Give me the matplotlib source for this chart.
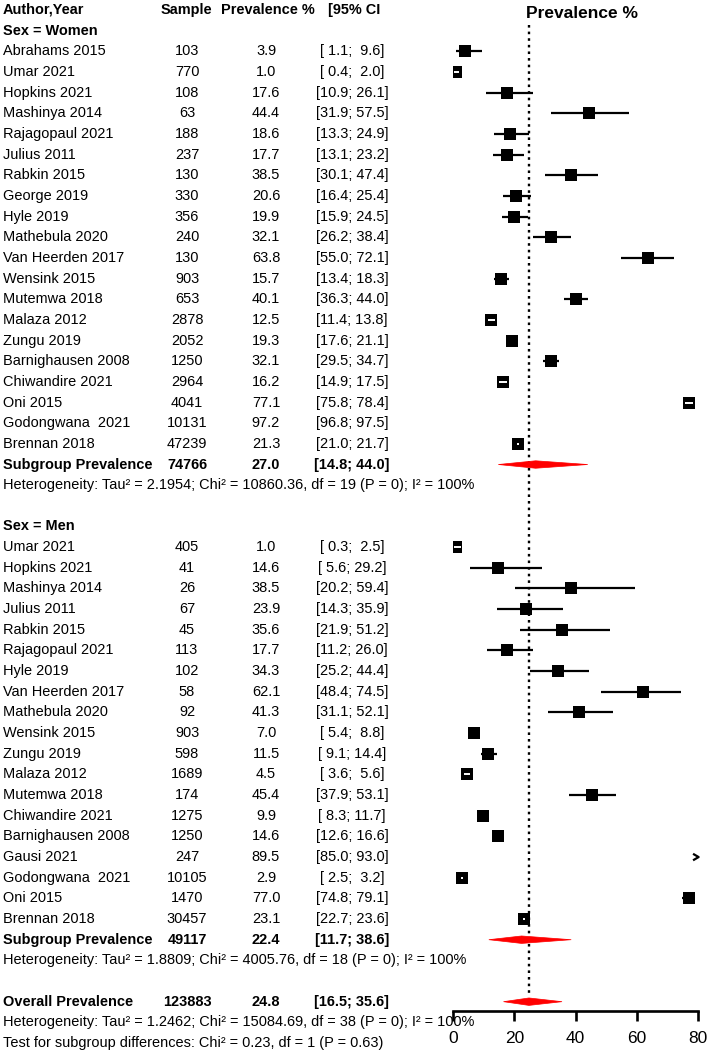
import matplotlib
matplotlib.use("Agg")
import matplotlib.pyplot as plt
from matplotlib.transforms import blended_transform_factory
from matplotlib.patches import Polygon

plt.rcParams['font.family'] = ['Liberation Sans', 'DejaVu Sans']

# ---- data: women ----
w_study = ["Abrahams 2015", "Umar 2021", "Hopkins 2021", "Mashinya 2014", "Rajagopaul 2021",
           "Julius 2011", "Rabkin 2015", "George 2019", "Hyle 2019", "Mathebula 2020",
           "Van Heerden 2017", "Wensink 2015", "Mutemwa 2018", "Malaza 2012", "Zungu 2019",
           "Barnighausen 2008", "Chiwandire 2021", "Oni 2015", "Godongwana  2021", "Brennan 2018"]
w_n = [103, 770, 108, 63, 188, 237, 130, 330, 356, 240, 130, 903, 653, 2878, 2052, 1250, 2964,
       4041, 10131, 47239]
w_prev = [3.9, 1.0, 17.6, 44.4, 18.6, 17.7, 38.5, 20.6, 19.9, 32.1, 63.8, 15.7, 40.1, 12.5, 19.3,
          32.1, 16.2, 77.1, 97.2, 21.3]
w_lo = [1.1, 0.4, 10.9, 31.9, 13.3, 13.1, 30.1, 16.4, 15.9, 26.2, 55.0, 13.4, 36.3, 11.4, 17.6,
        29.5, 14.9, 75.8, 96.8, 21.0]
w_hi = [9.6, 2.0, 26.1, 57.5, 24.9, 23.2, 47.4, 25.4, 24.5, 38.4, 72.1, 18.3, 44.0, 13.8, 21.1,
        34.7, 17.5, 78.4, 97.5, 21.7]
w_sub = [74766, 27.0, 14.8, 44.0]
w_het = "Heterogeneity: Tau² = 2.1954; Chi² = 10860.36, df = 19 (P = 0); I² = 100%"

# ---- data: men ----
m_study = ["Umar 2021", "Hopkins 2021", "Mashinya 2014", "Julius 2011", "Rabkin 2015",
           "Rajagopaul 2021", "Hyle 2019", "Van Heerden 2017", "Mathebula 2020", "Wensink 2015",
           "Zungu 2019", "Malaza 2012", "Mutemwa 2018", "Chiwandire 2021", "Barnighausen 2008",
           "Gausi 2021", "Godongwana  2021", "Oni 2015", "Brennan 2018"]
m_n = [405, 41, 26, 67, 45, 113, 102, 58, 92, 903, 598, 1689, 174, 1275, 1250, 247, 10105, 1470,
       30457]
m_prev = [1.0, 14.6, 38.5, 23.9, 35.6, 17.7, 34.3, 62.1, 41.3, 7.0, 11.5, 4.5, 45.4, 9.9, 14.6,
          89.5, 2.9, 77.0, 23.1]
m_lo = [0.3, 5.6, 20.2, 14.3, 21.9, 11.2, 25.2, 48.4, 31.1, 5.4, 9.1, 3.6, 37.9, 8.3, 12.6, 85.0,
        2.5, 74.8, 22.7]
m_hi = [2.5, 29.2, 59.4, 35.9, 51.2, 26.0, 44.4, 74.5, 52.1, 8.8, 14.4, 5.6, 53.1, 11.7, 16.6,
        93.0, 3.2, 79.1, 23.6]
m_sub = [49117, 22.4, 11.7, 38.6]
m_het = "Heterogeneity: Tau² = 1.8809; Chi² = 4005.76, df = 18 (P = 0); I² = 100%"

overall = [123883, 24.8, 16.5, 35.6]
overall_het = "Heterogeneity: Tau² = 1.2462; Chi² = 15084.69, df = 38 (P = 0); I² = 100%"
subgroup_test = "Test for subgroup differences: Chi² = 0.23, df = 1 (P = 0.63)"
arrow_studies = ["Gausi 2021"]

xticks = [0, 20, 40, 60, 80]

# ---- layout (pixels of a 708x1053 image) ----
W, H = 708, 1053
row_h = 20.66
top = 10
x0_px, x1_px = 453, 698
fs = 10.45
sq_px = 11.5

fig = plt.figure(figsize=(W / 100, H / 100), dpi=100)
ax = fig.add_axes([x0_px / W, 0, (x1_px - x0_px) / W, 1])
ax.set_xlim(0, 80)
ax.set_ylim((H - top) / row_h, -top / row_h)
for s in ["top", "left", "right"]:
    ax.spines[s].set_visible(False)
ax.set_yticks([])
ax.patch.set_alpha(0)

trans = blended_transform_factory(fig.transFigure, ax.transData)
col_name = 3 / W
col_n = 187 / W
col_p = 266 / W
col_ci = 352 / W


def ci_txt(lo, hi):
    return "[%4.1f; %4.1f]" % (lo, hi)


def row_text(r, name, n, p, lo, hi, bold=False):
    fw = 'bold' if bold else 'normal'
    ax.text(col_name, r, name, transform=trans, ha='left', va='center', fontsize=fs, fontweight=fw)
    ax.text(col_n, r, str(n), transform=trans, ha='center', va='center', fontsize=fs, fontweight=fw)
    ax.text(col_p, r, "%.1f" % p, transform=trans, ha='center', va='center', fontsize=fs, fontweight=fw)
    ax.text(col_ci, r, ci_txt(lo, hi), transform=trans, ha='center', va='center', fontsize=fs,
            fontweight=fw)


def diamond(r, p, lo, hi):
    h = 0.18
    ax.add_patch(Polygon([(lo, r), (p, r - h), (hi, r), (p, r + h)], closed=True,
                         facecolor='red', edgecolor='red', lw=0.5, zorder=3))


def studies(rows, names, n, prev, lo, hi):
    sq_w = 10 / ((x1_px - x0_px) / 80)
    for r, nm, nn, p, l, u in zip(rows, names, n, prev, lo, hi):
        row_text(r, nm, nn, p, l, u)
        if l > 80:
            if nm in arrow_studies:
                ax.plot([78.7, 80.2, 78.7], [r - 0.13, r, r + 0.13], color='black', lw=1.6,
                        clip_on=False, zorder=3)
            continue
        lc, hc = max(l, 0), min(u, 80)
        if (u - l) < sq_w * 0.95:
            ax.hlines(r, lc, hc, color='white', lw=1.4, zorder=4)
        else:
            ax.hlines(r, lc, hc, color='black', lw=1.6, zorder=2)
        ax.scatter([p], [r], marker='s', s=(sq_px * 0.72) ** 2, color='black', lw=0, zorder=3)


# header
ax.text(col_name, 0, "Author,Year", transform=trans, ha='left', va='center', fontsize=fs,
        fontweight='bold')
ax.text(186 / W, 0, "Sample", transform=trans, ha='center', va='center', fontsize=fs,
        fontweight='bold')
ax.text(268 / W, 0, "Prevalence %", transform=trans, ha='center', va='center', fontsize=fs,
        fontweight='bold')
ax.text(354 / W, 0, "[95% CI", transform=trans, ha='center', va='center', fontsize=fs,
        fontweight='bold')
ax.text(582 / W, 0.15, "Prevalence %", transform=trans, ha='center', va='center', fontsize=12.5,
        fontweight='bold')

# women block
r = 1
ax.text(col_name, r, "Sex = Women", transform=trans, ha='left', va='center', fontsize=fs,
        fontweight='bold')
w_rows = list(range(r + 1, r + 1 + len(w_study)))
studies(w_rows, w_study, w_n, w_prev, w_lo, w_hi)
r = w_rows[-1] + 1
row_text(r, "Subgroup Prevalence", *w_sub, bold=True)
diamond(r, *w_sub[1:])
ax.text(col_name, r + 1, w_het, transform=trans, ha='left', va='center', fontsize=fs)

# men block
r = r + 3
ax.text(col_name, r, "Sex = Men", transform=trans, ha='left', va='center', fontsize=fs,
        fontweight='bold')
m_rows = list(range(r + 1, r + 1 + len(m_study)))
studies(m_rows, m_study, m_n, m_prev, m_lo, m_hi)
r = m_rows[-1] + 1
row_text(r, "Subgroup Prevalence", *m_sub, bold=True)
diamond(r, *m_sub[1:])
ax.text(col_name, r + 1, m_het, transform=trans, ha='left', va='center', fontsize=fs)

# overall
r = r + 3
row_text(r, "Overall Prevalence", *overall, bold=True)
diamond(r, *overall[1:])
ax.text(col_name, r + 1, overall_het, transform=trans, ha='left', va='center', fontsize=fs)
ax.text(col_name, r + 2, subgroup_test, transform=trans, ha='left', va='center', fontsize=fs)

# reference line at overall estimate
ax.vlines(overall[1], 0.75, r - 0.3, color='black', lw=1.7, linestyles=(0, (1.1, 1.7)), zorder=1)

# x axis
ax.spines['bottom'].set_position(('data', r + 0.45))
ax.spines['bottom'].set_bounds(0, 80)
ax.spines['bottom'].set_linewidth(1.9)
ax.set_xticks(xticks)
ax.set_xticklabels([str(t) for t in xticks])
ax.tick_params(axis='x', direction='out', length=7.2, width=1.9, labelsize=12.5, pad=7)

fig.savefig("out.png", dpi=100)
